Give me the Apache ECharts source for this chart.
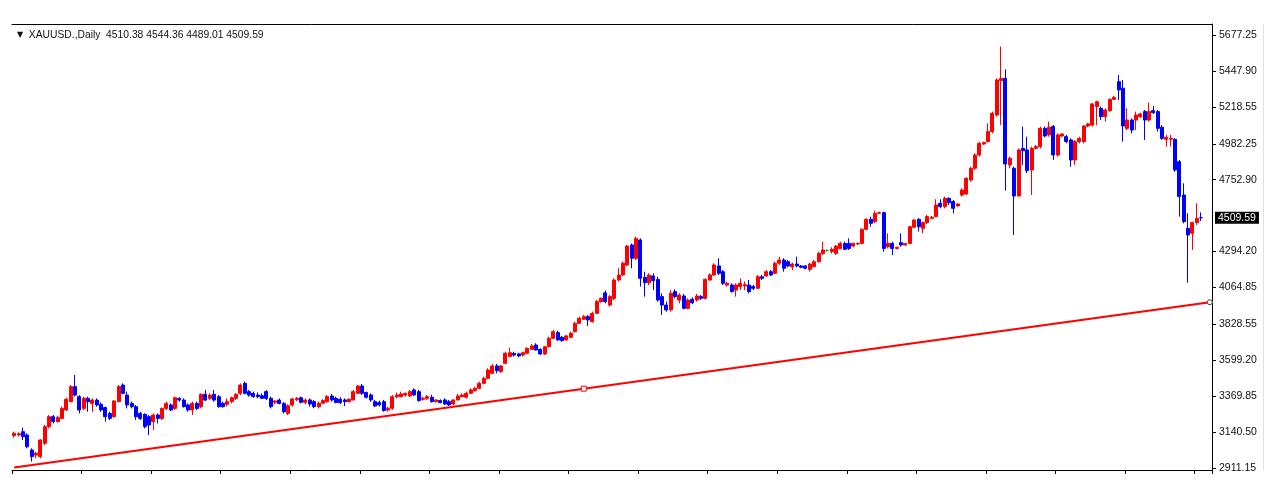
<!DOCTYPE html>
<html>
<head>
<meta charset="utf-8">
<title>XAUUSD Daily</title>
<script src="https://cdn.jsdelivr.net/npm/echarts@6/dist/echarts.min.js"></script>
<style>
  html, body { margin: 0; padding: 0; background: #fff; }
  #chart { width: 1274px; height: 500px; }
</style>
</head>
<body>
<div id="chart"></div>
<script>
// daily bars (open / close / low / high)
const opens = [
  3118, 3122, 3143, 3122, 3026, 2994, 2984, 3069, 3175, 3239,
  3207, 3228, 3282, 3335, 3431, 3367, 3292, 3356, 3324, 3345,
  3318, 3297, 3260, 3239, 3335, 3441, 3377, 3324, 3303, 3260,
  3254, 3239, 3207, 3250, 3228, 3292, 3314, 3292, 3356, 3345,
  3314, 3282, 3324, 3303, 3382, 3356, 3382, 3367, 3324, 3318,
  3335, 3356, 3388, 3452, 3399, 3388, 3377, 3373, 3399, 3356,
  3331, 3345, 3324, 3260, 3314, 3348, 3360, 3331,
  3346, 3335, 3303, 3325, 3335, 3371, 3356, 3350, 3346, 3335,
  3346, 3388, 3435, 3393, 3378, 3335, 3329, 3335, 3282, 3293,
  3367, 3367, 3378, 3371, 3410, 3399, 3350, 3356, 3363, 3335,
  3342, 3346, 3335, 3320, 3346, 3367, 3363, 3388, 3405, 3420,
  3452, 3484, 3516, 3563, 3527, 3580, 3623, 3644, 3640, 3633,
  3644, 3669, 3697, 3669, 3640, 3686, 3740, 3776, 3746, 3729,
  3746, 3782, 3835, 3861, 3878, 3846, 3899, 3974,
  4030, 3952, 3995, 4112, 4144, 4208, 4336, 4251, 4368, 4129,
  4095, 4138, 4116, 4006, 3952, 3921, 4038, 3984, 4010, 3931,
  3989, 3984, 4006, 3995, 4112, 4144, 4202, 4165, 4080, 4080,
  4048, 4070, 4074, 4080, 4070, 4059, 4133, 4138, 4165, 4155,
  4219, 4240, 4229, 4197, 4214, 4202, 4202, 4180, 4197, 4229,
  4282, 4300, 4293, 4282, 4314, 4346, 4346, 4329, 4342, 4346,
  4436, 4500, 4485, 4538, 4542, 4325, 4346, 4314, 4351, 4336,
  4346, 4449,
  4500, 4442, 4479, 4506, 4517, 4602, 4581, 4634, 4613, 4585,
  4655, 4662, 4751, 4826, 4911, 4981, 4996, 5060, 5166, 5386,
  5400, 4847, 4826, 4649, 4953, 4943, 4815, 4953, 4964, 5081,
  5039, 5092, 4911, 5032, 5028, 5007, 4879, 4996, 4996, 5096,
  5102, 5220, 5209, 5156, 5194, 5266, 5379, 5337, 5081, 5134,
  5134, 5156, 5188, 5134, 5194, 5188, 5088, 5011, 5011, 5011,
  4868, 4655, 4442, 4411, 4479, 4510.38
];
const closes = [
  3133, 3130, 3111, 3047, 2984, 3005, 3090, 3175, 3239, 3207,
  3233, 3292, 3350, 3431, 3377, 3282, 3356, 3335, 3345, 3314,
  3282, 3239, 3228, 3339, 3431, 3388, 3314, 3303, 3239, 3228,
  3175, 3186, 3250, 3228, 3292, 3324, 3282, 3360, 3345, 3303,
  3282, 3324, 3292, 3382, 3345, 3377, 3345, 3303, 3303, 3335,
  3360, 3382, 3441, 3388, 3377, 3367, 3367, 3356, 3356, 3303,
  3339, 3324, 3271, 3309, 3352, 3356, 3331, 3345,
  3320, 3303, 3325, 3342, 3367, 3346, 3329, 3329, 3335, 3350,
  3399, 3435, 3388, 3363, 3346, 3307, 3314, 3278, 3293, 3367,
  3378, 3384, 3388, 3399, 3378, 3342, 3356, 3367, 3335, 3346,
  3329, 3320, 3314, 3346, 3371, 3378, 3388, 3410, 3420, 3452,
  3484, 3537, 3563, 3533, 3563, 3644, 3648, 3633, 3627, 3648,
  3676, 3691, 3665, 3640, 3686, 3740, 3782, 3729, 3725, 3755,
  3772, 3835, 3867, 3878, 3857, 3899, 3974, 3995,
  3974, 4006, 4112, 4144, 4219, 4329, 4251, 4378, 4123, 4095,
  4144, 4108, 3984, 3952, 3921, 4027, 4006, 4016, 3931, 3984,
  3967, 4010, 3995, 4116, 4144, 4208, 4155, 4091, 4091, 4038,
  4080, 4091, 4082, 4038, 4059, 4133, 4123, 4165, 4144, 4219,
  4240, 4187, 4202, 4214, 4202, 4193, 4187, 4214, 4229, 4282,
  4304, 4300, 4308, 4329, 4346, 4308, 4314, 4346, 4346, 4436,
  4500, 4474, 4538, 4542, 4314, 4346, 4314, 4321, 4336, 4346,
  4453, 4495,
  4453, 4479, 4517, 4513, 4591, 4581, 4634, 4606, 4570, 4598,
  4687, 4762, 4826, 4911, 4985, 4990, 5060, 5177, 5390, 5400,
  4853, 4890, 4649, 4943, 4938, 4811, 4953, 4964, 5081, 5032,
  5088, 4911, 5039, 5045, 4996, 4879, 4996, 5017, 5096, 5109,
  5237, 5251, 5156, 5198, 5266, 5279, 5326, 5096, 5134, 5070,
  5166, 5173, 5134, 5188, 5181, 5081, 5017, 5024, 5017, 4815,
  4645, 4485, 4400, 4479, 4506, 4509.59
];
const lows = [
  3105, 3113, 3090, 3037, 2952, 2973, 2973, 3058, 3164, 3196,
  3203, 3224, 3275, 3331, 3367, 3260, 3282, 3271, 3271, 3303,
  3271, 3207, 3218, 3233, 3331, 3382, 3292, 3292, 3218, 3218,
  3164, 3122, 3154, 3196, 3218, 3282, 3275, 3282, 3335, 3297,
  3271, 3250, 3282, 3292, 3339, 3345, 3335, 3297, 3297, 3303,
  3324, 3345, 3377, 3382, 3367, 3360, 3356, 3352, 3345, 3292,
  3318, 3318, 3260, 3250, 3303, 3339, 3324, 3318,
  3303, 3293, 3293, 3320, 3329, 3335, 3325, 3320, 3307, 3329,
  3342, 3384, 3378, 3356, 3335, 3303, 3303, 3271, 3271, 3282,
  3356, 3363, 3367, 3367, 3371, 3335, 3342, 3346, 3329, 3329,
  3325, 3314, 3307, 3314, 3342, 3363, 3356, 3384, 3399, 3414,
  3448, 3478, 3512, 3516, 3520, 3576, 3619, 3623, 3619, 3623,
  3640, 3665, 3661, 3633, 3633, 3682, 3733, 3725, 3718, 3725,
  3740, 3776, 3831, 3857, 3818, 3840, 3895, 3967,
  3963, 3942, 3984, 4102, 4138, 4202, 4187, 4240, 4070, 4006,
  4080, 4048, 3974, 3889, 3910, 3910, 3995, 3963, 3925, 3925,
  3958, 3974, 3984, 3989, 4108, 4138, 4144, 4080, 4070, 4031,
  4006, 4048, 4048, 4027, 4048, 4053, 4112, 4133, 4138, 4151,
  4208, 4165, 4193, 4176, 4193, 4187, 4180, 4165, 4193, 4223,
  4272, 4293, 4282, 4272, 4308, 4304, 4304, 4321, 4336, 4342,
  4431, 4453, 4474, 4534, 4293, 4314, 4272, 4308, 4325, 4329,
  4342, 4442,
  4421, 4411, 4470, 4500, 4513, 4570, 4570, 4591, 4538, 4581,
  4645, 4655, 4740, 4815, 4900, 4975, 4990, 5049, 5156, 5102,
  4683, 4826, 4400, 4645, 4847, 4794, 4655, 4947, 4953, 5024,
  5028, 4879, 4900, 5024, 4985, 4836, 4847, 4985, 4985, 5088,
  5092, 5102, 5134, 5124, 5188, 5262, 5262, 4996, 5070, 5049,
  5070, 5145, 5007, 5124, 5173, 5060, 5007, 4964, 4964, 4804,
  4517, 4474, 4095, 4304, 4464, 4489.01
];
const highs = [
  3143, 3139, 3169, 3133, 3037, 3015, 3096, 3186, 3250, 3250,
  3245, 3303, 3360, 3441, 3505, 3377, 3367, 3367, 3356, 3356,
  3331, 3303, 3271, 3345, 3441, 3452, 3399, 3335, 3314, 3271,
  3260, 3250, 3260, 3260, 3297, 3335, 3324, 3367, 3363, 3356,
  3324, 3335, 3335, 3388, 3409, 3388, 3409, 3377, 3335, 3356,
  3367, 3388, 3452, 3463, 3409, 3399, 3394, 3388, 3409, 3367,
  3345, 3356, 3331, 3318, 3360, 3365, 3367, 3356,
  3356, 3346, 3335, 3350, 3378, 3384, 3367, 3363, 3356, 3356,
  3410, 3441, 3448, 3399, 3388, 3346, 3342, 3346, 3303, 3378,
  3393, 3399, 3393, 3410, 3420, 3410, 3367, 3378, 3378, 3350,
  3350, 3356, 3346, 3350, 3384, 3388, 3399, 3420, 3431, 3463,
  3495, 3548, 3576, 3576, 3569, 3654, 3680, 3654, 3648, 3654,
  3682, 3703, 3708, 3676, 3691, 3750, 3793, 3789, 3755, 3761,
  3782, 3846, 3878, 3889, 3889, 3910, 3985, 4000,
  4045, 4016, 4123, 4187, 4229, 4336, 4346, 4389, 4378, 4165,
  4155, 4155, 4133, 4027, 3974, 4048, 4052, 4027, 4023, 3995,
  4001, 4023, 4016, 4123, 4155, 4219, 4251, 4176, 4102, 4091,
  4091, 4123, 4102, 4112, 4080, 4144, 4144, 4176, 4176, 4229,
  4261, 4251, 4240, 4223, 4261, 4208, 4208, 4223, 4240, 4293,
  4357, 4308, 4321, 4336, 4357, 4357, 4378, 4351, 4351, 4442,
  4506, 4517, 4555, 4549, 4549, 4410, 4357, 4325, 4410, 4346,
  4457, 4500,
  4506, 4485, 4528, 4521, 4628, 4628, 4645, 4640, 4623, 4602,
  4698, 4768, 4836, 4921, 4996, 4996, 5113, 5188, 5400, 5603,
  5458, 4900, 4836, 4953, 5092, 5028, 4964, 4975, 5092, 5092,
  5124, 5102, 5049, 5049, 5039, 5017, 5007, 5028, 5102, 5113,
  5241, 5258, 5220, 5209, 5272, 5288, 5422, 5390, 5209, 5145,
  5188, 5181, 5198, 5245, 5224, 5198, 5102, 5039, 5039, 5017,
  4879, 4730, 4538, 4485, 4602, 4544.36
];

// price scale labels as printed on the right axis
const priceTicks = [2911.15, 3140.50, 3369.85, 3599.20, 3828.55, 4064.85, 4294.20,
  4752.90, 4982.25, 5218.55, 5447.90, 5677.25];

// trend line anchors: bar index and price
const trendIdx = [0, 131, 275];
const trendVal = [2915, 3418, 3970];

const chartShift = 2; // empty bars on the right
const categories = Array.from({ length: opens.length + chartShift }, (_, i) => String(i));

const UP = '#ff0000';
const DOWN = '#0000ff';
const DOJI = '#00c800';
const FONT = '"Liberation Sans", Arial, sans-serif';

const candles = opens.map((o, i) => {
  const v = [o, closes[i], lows[i], highs[i]];
  if (o === closes[i]) {
    return { value: v, itemStyle: { color: DOJI, color0: DOJI, borderColor: DOJI, borderColor0: DOJI } };
  }
  return v;
});

const trendData = categories.map(() => '-');
trendIdx.forEach((idx, k) => {
  const item = { value: trendVal[k], symbolSize: 0 };
  if (k === 1) {
    item.symbol = 'rect';
    item.symbolSize = 5;
    item.itemStyle = { color: '#fff', borderColor: UP, borderWidth: 1 };
  } else if (k === trendIdx.length - 1) {
    item.symbol = 'circle';
    item.symbolSize = 5;
    item.itemStyle = { color: '#fff', borderColor: '#444', borderWidth: 1 };
  }
  trendData[idx] = item;
});

const lastClose = closes[closes.length - 1];
const yMin = 2898.4;
const yMax = 5747.5;

const chart = echarts.init(document.getElementById('chart'));
chart.setOption({
  animation: false,
  backgroundColor: '#fff',
  title: {
    left: 12,
    top: 25,
    text: '{tri|▼}  XAUUSD.,Daily  4510.38 4544.36 4489.01 4509.59',
    textStyle: {
      fontFamily: FONT, fontSize: 10.3, fontWeight: 'normal', color: '#111',
      rich: { tri: { fontSize: 8, color: '#111', fontFamily: 'DejaVu Sans' } }
    }
  },
  grid: { left: 12, right: 62, top: 24, bottom: 30 },
  xAxis: [
    {
      type: 'category',
      data: categories,
      boundaryGap: true,
      axisLine: { lineStyle: { color: '#000', width: 1 } },
      axisTick: { show: true, interval: 15, length: 4, lineStyle: { color: '#000' } },
      axisLabel: { show: false },
      splitLine: { show: false }
    },
    {
      type: 'category',
      position: 'top',
      data: categories,
      axisLine: { lineStyle: { color: '#000', width: 1 } },
      axisTick: { show: false },
      axisLabel: { show: false }
    }
  ],
  yAxis: [
    {
      type: 'value',
      position: 'right',
      min: yMin,
      max: yMax,
      scale: true,
      axisLine: { show: true, lineStyle: { color: '#000', width: 1 } },
      axisTick: { show: true, length: 4, customValues: priceTicks, lineStyle: { color: '#000' } },
      axisLabel: {
        customValues: priceTicks,
        margin: 7,
        color: '#111',
        fontFamily: FONT,
        fontSize: 10.5,
        formatter: (v) => v.toFixed(2)
      },
      splitLine: { show: false }
    },
    {
      type: 'value',
      position: 'right',
      offset: 51,
      min: yMin,
      max: yMax,
      axisLine: { show: true, lineStyle: { color: '#e2e2e2', width: 1 } },
      axisTick: { show: false },
      axisLabel: { show: false },
      splitLine: { show: false }
    }
  ],
  series: [
    {
      name: 'XAUUSD',
      type: 'candlestick',
      data: candles,
      barWidth: 3.5,
      itemStyle: {
        color: UP, color0: DOWN,
        borderColor: UP, borderColor0: DOWN,
        borderWidth: 1
      },
      markLine: {
        silent: true,
        symbol: 'none',
        lineStyle: { color: 'rgba(0,0,0,0)', width: 1, type: 'solid' },
        data: [{ yAxis: lastClose }],
        label: {
          show: true,
          position: 'end',
          distance: 3,
          formatter: () => lastClose.toFixed(2),
          backgroundColor: '#000',
          color: '#fff',
          fontFamily: FONT,
          fontSize: 10.5,
          padding: [1, 3, 0, 3]
        }
      }
    },
    {
      name: 'trend',
      type: 'line',
      data: trendData,
      connectNulls: true,
      symbol: 'none',
      showSymbol: true,
      showAllSymbol: true,
      lineStyle: { color: UP, width: 2 },
      itemStyle: { color: UP },
      z: 3
    }
  ]
});
</script>
</body>
</html>
